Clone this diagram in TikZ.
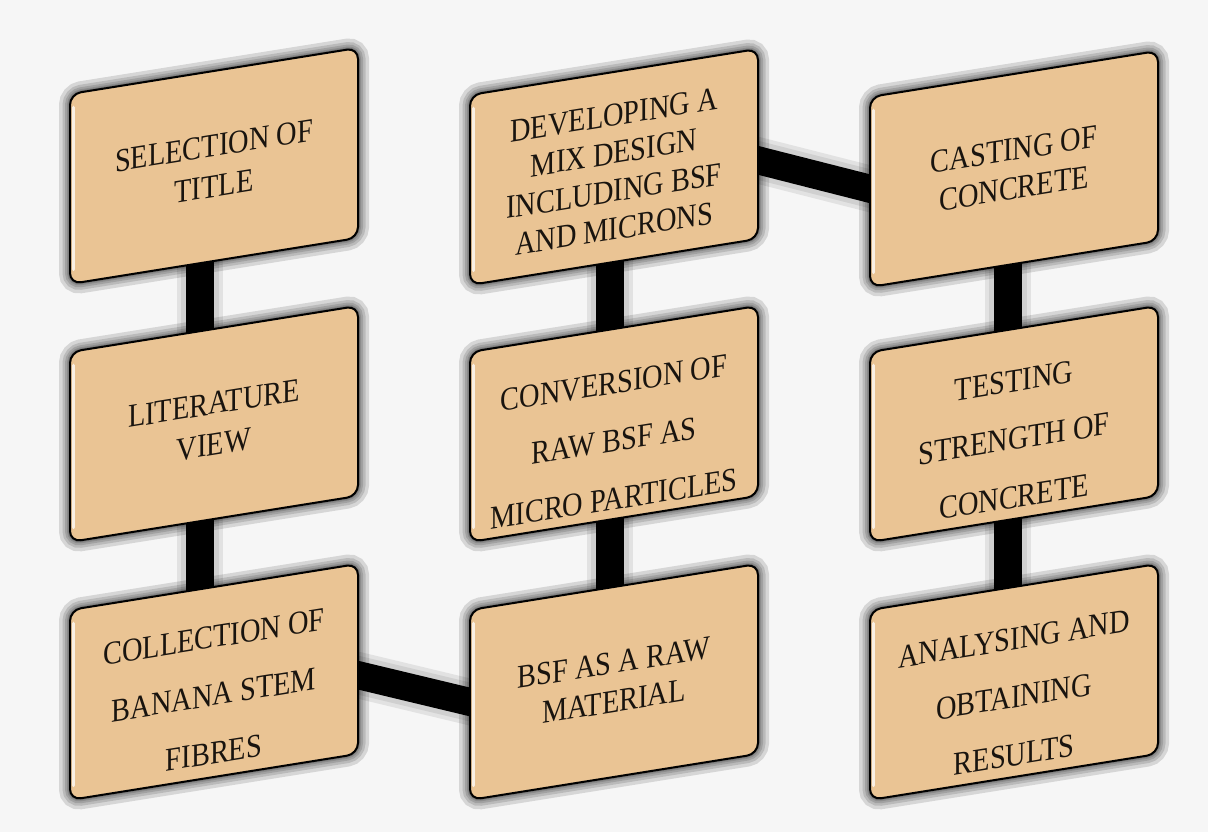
\documentclass[tikz,border=0pt]{standalone}
\usepackage{fontspec}
\setmainfont{Liberation Serif}
\newfontfamily\boxfont[FakeStretch=0.86]{Liberation Serif}
\pgfdeclarelayer{background}
\pgfsetlayers{background,main}
\definecolor{boxfill}{RGB}{234,196,148}
\definecolor{bgcol}{RGB}{246,246,246}
\definecolor{txt}{RGB}{25,20,15}
\tikzset{
  boxhalo/.style={draw=black, rounded corners=11pt, fill=none},
  boxshape/.style={draw=black, line width=2pt, fill=boxfill, rounded corners=11pt},
  boxtext/.style={transform shape, align=center, text=txt, inner sep=0pt},
  linkbar/.style={line width=28pt, draw=black},
  linkhalo/.style={draw=black, opacity=0.08},
}
% name, x, imgy, barx, lineskip, texty, text
\newcommand\flowbox[7]{%
  \begin{scope}[shift={(#2,832-#3)}, yslant=0.16]
    \foreach \w in {22,15,10,6,3.5}{\draw[boxhalo, line width=\w pt, opacity=0.13] (0,-190) rectangle (288,0);}
    \draw[boxshape] (0,-190) rectangle (288,0);
    \draw[white!75!boxfill, line width=3.5pt, line cap=round] (3.5,-14) -- (3.5,-176);
    \node[boxtext, font=\boxfont\fontsize{33}{#5}\selectfont] (#1) at (144,#6) {#7};
    \coordinate (#1-c) at (#4,-95);
    \coordinate (#1-r) at (275,-106);
    \coordinate (#1-l) at (15,-98);
  \end{scope}}
\begin{document}
\begin{tikzpicture}[x=1pt,y=1pt]
\useasboundingbox (0,0) rectangle (1208,832);
\flowbox{b1}{70}{94}{130}{41}{-95}{SELECTION OF\\TITLE}
\flowbox{b2}{70}{352}{130}{41}{-95}{LITERATURE\\VIEW}
\flowbox{b3}{70}{610}{130}{58}{-108}{COLLECTION OF\\BANANA STEM\\FIBRES}
\flowbox{b4}{470}{95}{140}{38}{-100}{DEVELOPING A\\MIX DESIGN\\INCLUDING BSF\\AND MICRONS}
\flowbox{b5}{470}{352}{140}{58}{-112}{CONVERSION OF\\RAW BSF AS\\MICRO PARTICLES}
\flowbox{b6}{470}{610}{140}{39}{-95}{BSF AS A RAW\\MATERIAL}
\flowbox{b7}{870}{97}{138}{39}{-95}{CASTING OF\\CONCRETE}
\flowbox{b8}{870}{352}{138}{58}{-110}{TESTING\\STRENGTH OF\\CONCRETE}
\flowbox{b9}{870}{610}{138}{58}{-110}{ANALYSING AND\\OBTAINING\\RESULTS}
\begin{pgfonlayer}{background}
  \fill[bgcol] (0,0) rectangle (1208,832);
  \foreach \a/\b in {b1-c/b2-c, b2-c/b3-c, b3-r/b6-l, b6-c/b5-c, b5-c/b4-c, b4-r/b7-l, b7-c/b8-c, b8-c/b9-c}{
    \draw[linkhalo, line width=46pt] (\a) -- (\b);
    \draw[linkhalo, line width=38pt] (\a) -- (\b);
    \draw[linkbar] (\a) -- (\b);
  }
\end{pgfonlayer}
\end{tikzpicture}
\end{document}
